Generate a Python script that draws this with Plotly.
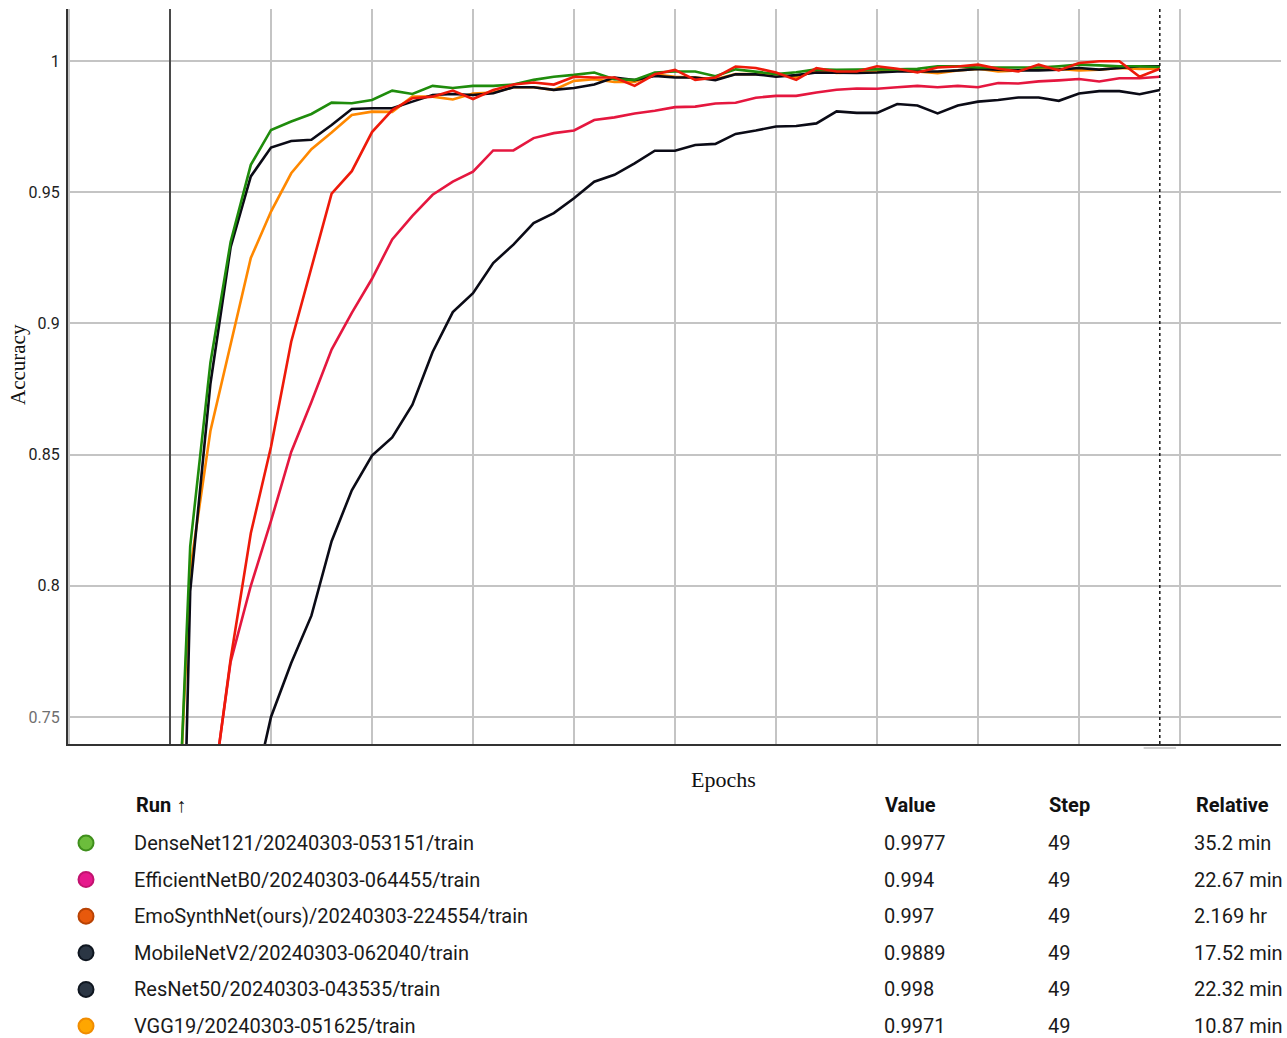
import plotly.graph_objects as go

# ---------------- data ----------------
steps = list(range(50))

densenet121 = [0.63, 0.815, 0.885, 0.931, 0.9604, 0.9737, 0.9769, 0.9798, 0.9841, 0.9839,
               0.9851, 0.9887, 0.9874, 0.9905, 0.9897, 0.9905, 0.9905, 0.991, 0.9928, 0.994,
               0.9947, 0.9956, 0.993, 0.9928, 0.9956, 0.996, 0.996, 0.9942, 0.9968, 0.996,
               0.995, 0.9957, 0.9968, 0.9966, 0.9968, 0.9968, 0.9968, 0.997, 0.998, 0.998,
               0.9975, 0.9975, 0.9975, 0.9975, 0.998, 0.9986, 0.9983, 0.998, 0.998, 0.9977]

efficientnetb0 = [0.55, 0.65, 0.715, 0.771, 0.800, 0.8247, 0.851, 0.870, 0.890, 0.904,
                  0.917, 0.932, 0.941, 0.949, 0.954, 0.9578, 0.9659, 0.9659, 0.9706, 0.9725,
                  0.9735, 0.9775, 0.9785, 0.980, 0.981, 0.9824, 0.9826, 0.9838, 0.9841, 0.986,
                  0.9867, 0.9867, 0.988, 0.989, 0.9895, 0.9894, 0.990, 0.9905, 0.990, 0.9905,
                  0.990, 0.9916, 0.9914, 0.9922, 0.9926, 0.9931, 0.9922, 0.9934, 0.9934, 0.994]

emosynthnet = [0.55, 0.64, 0.714, 0.772, 0.820, 0.853, 0.893, 0.921, 0.9494, 0.958,
               0.9729, 0.9813, 0.9858, 0.9864, 0.9887, 0.9855, 0.9889, 0.991, 0.9918, 0.991,
               0.994, 0.9937, 0.9937, 0.9905, 0.9949, 0.9966, 0.9928, 0.9937, 0.9979, 0.9973,
               0.9956, 0.9928, 0.9973, 0.996, 0.996, 0.998, 0.997, 0.9956, 0.9975, 0.9979,
               0.9986, 0.997, 0.996, 0.9986, 0.9964, 0.9992, 0.9999, 0.9999, 0.994, 0.997]

mobilenetv2 = [0.55, 0.60, 0.65, 0.69, 0.716, 0.750, 0.7706, 0.7886, 0.817, 0.8364,
               0.8496, 0.8565, 0.869, 0.8891, 0.9043, 0.9115, 0.923, 0.930, 0.9382, 0.942,
               0.9477, 0.954, 0.9566, 0.961, 0.9658, 0.9658, 0.968, 0.9684, 0.9722, 0.9735,
               0.975, 0.9752, 0.9762, 0.9808, 0.9802, 0.9802, 0.9836, 0.983, 0.980, 0.983,
               0.9845, 0.9851, 0.9861, 0.9861, 0.9848, 0.9876, 0.9885, 0.9885, 0.9873, 0.9889]

resnet50 = [0.48, 0.798, 0.877, 0.929, 0.956, 0.967, 0.9695, 0.970, 0.9756, 0.9817,
            0.982, 0.982, 0.9845, 0.987, 0.9874, 0.987, 0.9877, 0.990, 0.990, 0.989,
            0.9897, 0.991, 0.9937, 0.9927, 0.9943, 0.9937, 0.9937, 0.9927, 0.9949, 0.9949,
            0.994, 0.9946, 0.9956, 0.9954, 0.9954, 0.9956, 0.996, 0.996, 0.996, 0.9964,
            0.997, 0.9967, 0.9964, 0.9964, 0.9967, 0.9973, 0.9967, 0.9973, 0.998, 0.998]

vgg19 = [0.64, 0.806, 0.859, 0.892, 0.9249, 0.9426, 0.9572, 0.9664, 0.9727, 0.9794,
         0.9807, 0.9806, 0.9864, 0.9864, 0.9853, 0.9876, 0.988, 0.990, 0.990, 0.989,
         0.9924, 0.993, 0.992, 0.992, 0.9949, 0.994, 0.9937, 0.993, 0.995, 0.995,
         0.995, 0.9937, 0.9964, 0.9954, 0.9956, 0.996, 0.9964, 0.996, 0.9953, 0.9964,
         0.997, 0.996, 0.9964, 0.9973, 0.997, 0.9964, 0.9967, 0.9973, 0.997, 0.9971]

run_names = ["DenseNet121/20240303-053151/train",
             "EfficientNetB0/20240303-064455/train",
             "EmoSynthNet(ours)/20240303-224554/train",
             "MobileNetV2/20240303-062040/train",
             "ResNet50/20240303-043535/train",
             "VGG19/20240303-051625/train"]
run_values = ["0.9977", "0.994", "0.997", "0.9889", "0.998", "0.9971"]
run_steps = ["49", "49", "49", "49", "49", "49"]
run_relative = ["35.2 min", "22.67 min", "2.169 hr", "17.52 min", "22.32 min", "10.87 min"]

y_ticks = [0.75, 0.8, 0.85, 0.9, 0.95, 1.0]
y_ticktext = ["<span style='color:#6f6f6f'>0.75</span>", "0.8", "0.85", "0.9", "0.95", "1"]

# ---------------- styles ----------------
line_colors = {
    "DenseNet121": "#1f8c0c",
    "EfficientNetB0": "#e5173f",
    "EmoSynthNet": "#ee1a0a",
    "MobileNetV2": "#0b0b16",
    "ResNet50": "#0b0b16",
    "VGG19": "#ff8800",
}
dot_fill = ["#6cbd3c", "#e6198c", "#e8590c", "#2b3644", "#2b3644", "#ffa600"]
dot_line = ["#3f8f1c", "#c2136f", "#b84204", "#0f1620", "#0f1620", "#f08c00"]

W, H = 1287, 1038
L, R, T, B = 68, 6, 9, 294
PW, PH = W - L - R, H - T - B


def px(x):
    return (x - L) / PW


def py(y):
    return (H - B - y) / PH


fig = go.Figure()

series = [
    ("EfficientNetB0", efficientnetb0),
    ("MobileNetV2", mobilenetv2),
    ("VGG19", vgg19),
    ("ResNet50", resnet50),
    ("DenseNet121", densenet121),
    ("EmoSynthNet", emosynthnet),
]
for name, vals in series:
    fig.add_trace(go.Scatter(
        x=steps, y=vals, mode="lines", name=name,
        line=dict(color=line_colors[name], width=2.6),
        showlegend=False, hoverinfo="skip"))

fig.update_layout(
    width=W, height=H,
    margin=dict(l=L, r=R, t=T, b=B),
    paper_bgcolor="white", plot_bgcolor="white",
    font=dict(family="Roboto", color="#212121"),
    showlegend=False,
)

fig.update_xaxes(
    range=[-5.05, 55], tick0=0, dtick=5, showticklabels=False, ticks="",
    showgrid=True, gridcolor="#c4c4c4", gridwidth=2,
    zeroline=True, zerolinecolor="#4a4a4a", zerolinewidth=2,
    showline=True, linecolor="#333333", linewidth=2,
)
fig.update_yaxes(
    range=[0.7397, 1.0198], tickvals=y_ticks, ticktext=y_ticktext,
    tickfont=dict(family="Roboto", size=16, color="#222222"),
    ticks="", ticklabelstandoff=3,
    showgrid=True, gridcolor="#c4c4c4", gridwidth=2,
    zeroline=False,
    showline=True, linecolor="#333333", linewidth=2,
)

# dotted cursor line at final step
fig.add_shape(type="line", xref="x", yref="paper", x0=steps[-1], x1=steps[-1], y0=0, y1=1,
              line=dict(color="#111111", width=1.5, dash="dot"))
fig.add_shape(type="line", xref="x", yref="paper", x0=steps[-1] - 0.8, x1=steps[-1] + 0.8,
              y0=py(748), y1=py(748), line=dict(color="#d0d0d0", width=2))

ann = []
ann.append(dict(text="Accuracy", x=px(18), y=py(365), xref="paper", yref="paper",
                textangle=-90, showarrow=False, xanchor="center", yanchor="middle",
                font=dict(family="Liberation Serif", size=21, color="#111111")))
ann.append(dict(text="Epochs", x=px(723), y=py(779), xref="paper", yref="paper",
                showarrow=False, xanchor="center", yanchor="middle",
                font=dict(family="Liberation Serif", size=22, color="#111111")))

header_y = 805
headers = [("<b>Run ↑</b>", 134), ("<b>Value</b>", 883), ("<b>Step</b>", 1047), ("<b>Relative</b>", 1194)]
for txt, hx in headers:
    ann.append(dict(text=txt, x=px(hx), y=py(header_y), xref="paper", yref="paper",
                    showarrow=False, xanchor="left", yanchor="middle",
                    font=dict(family="Roboto", size=20, color="#111111")))

row0, row_gap = 843, 36.6
for i, name in enumerate(run_names):
    ry = row0 + i * row_gap
    cols = [(name, 132), (run_values[i], 882), (run_steps[i], 1046), (run_relative[i], 1192)]
    for txt, cx in cols:
        ann.append(dict(text=txt, x=px(cx), y=py(ry), xref="paper", yref="paper",
                        showarrow=False, xanchor="left", yanchor="middle",
                        font=dict(family="Roboto", size=20, color="#1a1a1a")))
    r = 7.5
    fig.add_shape(type="circle", xref="paper", yref="paper",
                  x0=px(86 - r), x1=px(86 + r), y0=py(ry + r), y1=py(ry - r),
                  fillcolor=dot_fill[i], line=dict(color=dot_line[i], width=2))

fig.update_layout(annotations=ann)

fig.write_html("out.html")
